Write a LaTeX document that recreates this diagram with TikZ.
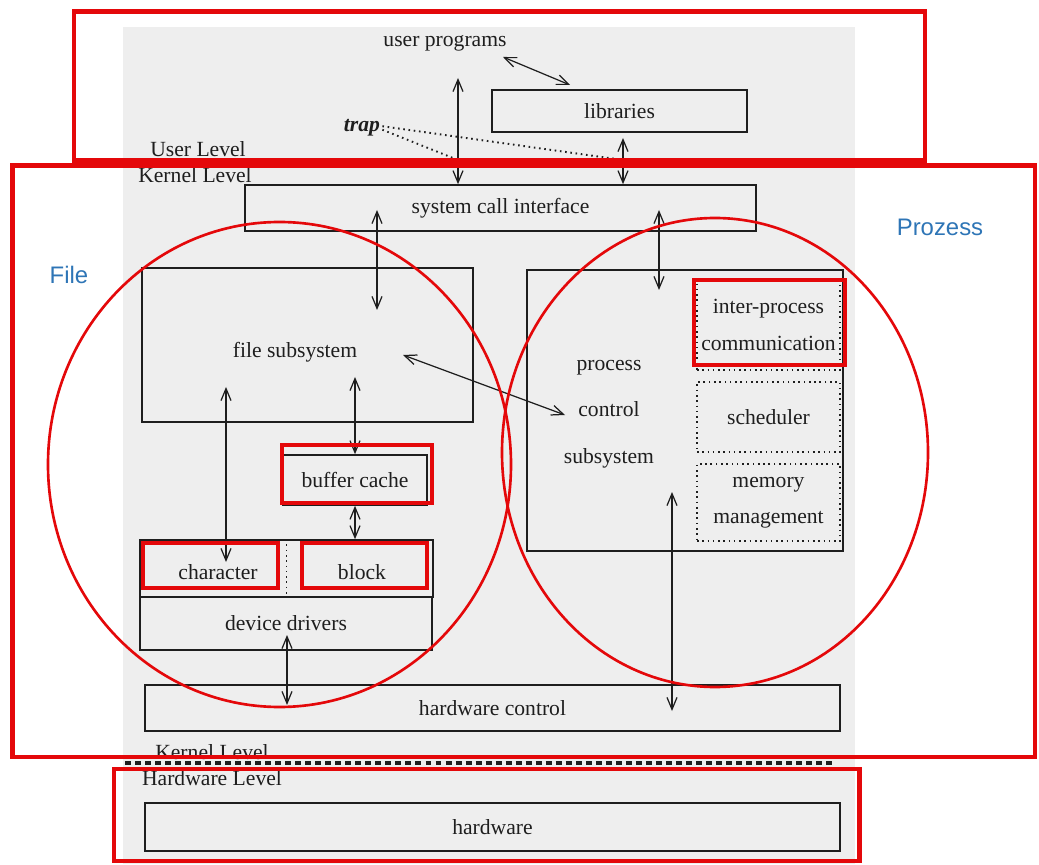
\documentclass[tikz,border=0pt]{standalone}
\usepackage{fontspec}
\setmainfont{Liberation Serif}
\newfontfamily\tagfont{Liberation Sans}
\usetikzlibrary{arrows.meta}
\definecolor{scan}{RGB}{238,238,238}
\definecolor{ink}{RGB}{30,30,30}
\definecolor{markred}{RGB}{228,8,10}
\definecolor{tagblue}{RGB}{46,117,182}
\begin{document}
\begin{tikzpicture}[line width=0.7pt,
  txt/.style={font=\fontsize{12.3}{14.5}\selectfont, text=ink, inner sep=1pt},
  blk/.style={txt, draw=ink, line width=0.9pt, inner sep=0pt},
  dots/.style={draw=ink, line width=1.1pt, dash pattern=on 0.9pt off 2.1pt},
  link/.style={draw=ink, line width=0.7pt, {Straight Barb[length=2.4mm,width=2mm]}-{Straight Barb[length=2.4mm,width=2mm]}},
  hilite/.style={draw=markred, line width=2.8pt},
  ring/.style={draw=markred, line width=1.5pt},
  tag/.style={font=\tagfont\fontsize{13.6}{16}\selectfont, text=tagblue}]
  \useasboundingbox (0,0) rectangle (20.78,17.28);
  \fill[scan] (2.46,0) rectangle (17.10,16.74);
  \node[txt] (userprog) at (8.90,16.42) {user programs};
  \node[blk, minimum width=5.10cm, minimum height=0.84cm] (lib) at (12.39,15.06) {libraries};
  \node[txt, font=\fontsize{12.3}{14.5}\selectfont\bfseries\itshape] (trap) at (7.24,14.72) {trap};
  \node[txt] (userlvl) at (3.96,14.30) {User Level};
  \node[txt] (kernlvl) at (3.90,13.78) {Kernel Level};
  \node[blk, minimum width=10.22cm, minimum height=0.92cm] (sci) at (10.01,13.12) {system call interface};
  \node[blk, minimum width=6.62cm, minimum height=3.08cm] (fsbox) at (6.15,10.38) {};
  \node[txt] (fs) at (5.90,10.24) {file subsystem};
  \node[blk, minimum width=6.32cm, minimum height=5.62cm] (pcbox) at (13.70,9.07) {};
  \node[txt, align=center, font=\fontsize{12.3}{26.5}\selectfont] (pc) at (12.18,9.00) {process\\control\\subsystem};
  \node[blk, dots, minimum width=2.86cm, minimum height=1.80cm, align=center, font=\fontsize{12.3}{21}\selectfont] (ipc) at (15.37,10.78) {inter-process\\communication};
  \node[blk, dots, minimum width=2.86cm, minimum height=1.40cm] (sched) at (15.37,8.94) {scheduler};
  \node[blk, dots, minimum width=2.86cm, minimum height=1.54cm, align=center, font=\fontsize{12.3}{20.4}\selectfont] (mm) at (15.37,7.23) {memory\\management};
  \node[blk, minimum width=2.88cm, minimum height=1.00cm] (bc) at (7.10,7.68) {buffer cache};
  \node[blk, minimum width=5.86cm, minimum height=1.14cm] (cb) at (5.73,5.91) {};
  \node[txt] (chr) at (4.36,5.84) {character};
  \node[txt] (blkdev) at (7.24,5.84) {block};
  \node[blk, minimum width=5.84cm, minimum height=1.06cm] (dd) at (5.72,4.81) {device drivers};
  \node[blk, minimum width=13.90cm, minimum height=0.92cm] (hwc) at (9.85,3.12) {hardware control};
  \node[txt] (kernlvl2) at (4.24,2.24) {Kernel Level};
  \node[txt] (hwlvl) at (4.24,1.72) {Hardware Level};
  \node[blk, minimum width=13.90cm, minimum height=0.96cm] (hw) at (9.85,0.74) {hardware};
  \draw[ink, line width=2pt, dash pattern=on 3.4pt off 2.3pt] (2.50,2.02) -- (16.66,2.02);
  \draw[dots] (cb.north) -- (cb.south);
  \coordinate (u1) at (10.06,16.14);
  \coordinate (u2) at (11.40,15.58);
  \coordinate (t1) at (9.16,15.72);
  \coordinate (t2) at (12.46,14.52);
  \coordinate (k1) at (9.16,14.08);
  \coordinate (k2) at (12.46,14.08);
  \coordinate (s1) at (7.54,13.08);
  \coordinate (s2) at (7.54,11.08);
  \coordinate (p1) at (13.18,13.08);
  \coordinate (p2) at (13.18,11.48);
  \coordinate (f1) at (8.06,10.18);
  \coordinate (f2) at (11.30,8.98);
  \coordinate (b1) at (7.10,9.74);
  \coordinate (c1) at (4.52,9.54);
  \coordinate (c2) at (4.52,6.04);
  \coordinate (d1) at (5.74,4.58);
  \coordinate (d2) at (5.74,3.18);
  \coordinate (h1) at (13.44,7.44);
  \coordinate (h2) at (13.44,3.06);
  \draw[link] (u1) -- (u2);
  \draw[link] (t1) -- (t1 |- sci.north);
  \draw[link] (t2) -- (t2 |- sci.north);
  \draw[dots] ([yshift=1pt]trap.east) -- (k2);
  \draw[dots] ([yshift=-1pt]trap.east) -- (k1);
  \draw[link] (s1) -- (s2);
  \draw[link] (p1) -- (p2);
  \draw[link] (f1) -- (f2);
  \draw[link] (b1) -- (bc.north);
  \draw[link] (bc.south) -- (bc.south |- cb.north);
  \draw[link] (c1) -- (c2);
  \draw[link] (d1) -- (d2);
  \draw[link] (h1) -- (h2);
  \draw[hilite] (1.48,17.05) rectangle (18.50,14.07);
  \draw[hilite] (0.25,13.97) rectangle (20.70,2.14);
  \draw[hilite] (2.28,1.90) rectangle (17.19,0.06);
  \draw[hilite] (5.64,8.38) rectangle (8.64,7.22);
  \draw[hilite] (2.86,6.42) rectangle (5.56,5.52);
  \draw[hilite] (6.04,6.42) rectangle (8.54,5.52);
  \draw[hilite] (13.88,11.68) rectangle (16.90,9.98);
  \draw[ring] (5.59,7.99) ellipse [x radius=4.63cm, y radius=4.85cm];
  \draw[ring] (14.30,8.23) ellipse [x radius=4.26cm, y radius=4.69cm];
  \node[tag] (filetag) at (1.38,11.78) {File};
  \node[tag] (proctag) at (18.80,12.74) {Prozess};
\end{tikzpicture}
\end{document}
